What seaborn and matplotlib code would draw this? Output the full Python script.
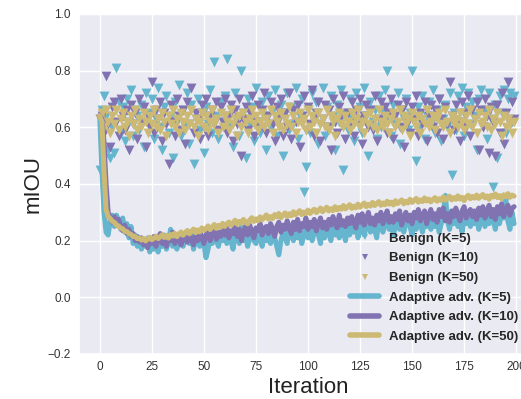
import matplotlib
matplotlib.use("Agg")
import matplotlib.pyplot as plt
from matplotlib.lines import Line2D
import seaborn as sns
import pandas as pd

iterations = list(range(200))

benign_k5 = [
    0.45, 0.66, 0.71, 0.64, 0.52, 0.49, 0.60, 0.51, 0.81, 0.69, 0.58, 0.67, 0.55, 0.70, 0.62, 0.73, 0.57, 0.66, 0.64, 0.59,
    0.68, 0.53, 0.72, 0.61, 0.65, 0.70, 0.56, 0.63, 0.74, 0.60, 0.52, 0.67, 0.71, 0.58, 0.64, 0.49, 0.69, 0.62, 0.75, 0.57,
    0.66, 0.60, 0.72, 0.54, 0.68, 0.47, 0.63, 0.70, 0.59, 0.65, 0.51, 0.67, 0.61, 0.73, 0.58, 0.83, 0.64, 0.56, 0.69, 0.62,
    0.71, 0.84, 0.60, 0.66, 0.53, 0.72, 0.63, 0.57, 0.80, 0.65, 0.49, 0.70, 0.61, 0.67, 0.55, 0.74, 0.62, 0.58, 0.69, 0.64,
    0.52, 0.71, 0.60, 0.66, 0.73, 0.57, 0.63, 0.68, 0.50, 0.65, 0.72, 0.59, 0.67, 0.61, 0.74, 0.56, 0.64, 0.70, 0.37, 0.46,
    0.66, 0.58, 0.72, 0.63, 0.69, 0.54, 0.61, 0.74, 0.57, 0.67, 0.60, 0.71, 0.64, 0.52, 0.68, 0.62, 0.73, 0.45, 0.65, 0.59,
    0.70, 0.63, 0.55, 0.72, 0.61, 0.67, 0.58, 0.74, 0.64, 0.50, 0.69, 0.62, 0.66, 0.56, 0.71, 0.60, 0.65, 0.73, 0.80, 0.63,
    0.57, 0.68, 0.61, 0.72, 0.54, 0.66, 0.63, 0.70, 0.59, 0.65, 0.80, 0.62, 0.48, 0.67, 0.60, 0.71, 0.56, 0.64, 0.69, 0.61,
    0.73, 0.58, 0.66, 0.70, 0.55, 0.63, 0.68, 0.60, 0.72, 0.43, 0.65, 0.59, 0.71, 0.62, 0.74, 0.57, 0.67, 0.72, 0.61, 0.69,
    0.64, 0.52, 0.70, 0.73, 0.60, 0.66, 0.56, 0.72, 0.63, 0.39, 0.68, 0.49, 0.71, 0.65, 0.73, 0.58, 0.70, 0.72, 0.62, 0.71,
]

benign_k10 = [
    0.63, 0.64, 0.58, 0.78, 0.61, 0.53, 0.67, 0.69, 0.62, 0.57, 0.70, 0.64, 0.59, 0.66, 0.52, 0.68, 0.61, 0.65, 0.56, 0.70,
    0.62, 0.67, 0.53, 0.64, 0.60, 0.76, 0.58, 0.66, 0.63, 0.69, 0.55, 0.65, 0.61, 0.47, 0.68, 0.62, 0.57, 0.70, 0.64, 0.59,
    0.66, 0.54, 0.69, 0.61, 0.74, 0.58, 0.65, 0.63, 0.56, 0.68, 0.60, 0.70, 0.57, 0.64, 0.66, 0.61, 0.69, 0.59, 0.67, 0.62,
    0.70, 0.58, 0.64, 0.68, 0.55, 0.66, 0.61, 0.70, 0.50, 0.63, 0.67, 0.59, 0.65, 0.71, 0.57, 0.62, 0.68, 0.60, 0.66, 0.72,
    0.58, 0.64, 0.69, 0.61, 0.55, 0.67, 0.63, 0.70, 0.57, 0.65, 0.60, 0.72, 0.56, 0.66, 0.62, 0.68, 0.53, 0.64, 0.71, 0.59,
    0.67, 0.61, 0.73, 0.57, 0.65, 0.69, 0.55, 0.63, 0.68, 0.60, 0.66, 0.52, 0.70, 0.62, 0.58, 0.67, 0.64, 0.71, 0.56, 0.65,
    0.61, 0.69, 0.57, 0.66, 0.63, 0.70, 0.54, 0.64, 0.68, 0.60, 0.66, 0.59, 0.71, 0.55, 0.63, 0.69, 0.61, 0.67, 0.58, 0.65,
    0.70, 0.56, 0.64, 0.68, 0.60, 0.66, 0.53, 0.69, 0.62, 0.58, 0.67, 0.63, 0.71, 0.57, 0.65, 0.61, 0.69, 0.55, 0.64, 0.68,
    0.60, 0.66, 0.58, 0.70, 0.63, 0.56, 0.67, 0.61, 0.76, 0.64, 0.59, 0.68, 0.62, 0.55, 0.69, 0.65, 0.60, 0.71, 0.57, 0.66,
    0.63, 0.69, 0.52, 0.66, 0.60, 0.70, 0.64, 0.51, 0.67, 0.62, 0.50, 0.68, 0.58, 0.72, 0.54, 0.65, 0.76, 0.61, 0.69, 0.63,
]

benign_k50 = [
    0.63, 0.65, 0.60, 0.66, 0.62, 0.58, 0.64, 0.61, 0.66, 0.59, 0.63, 0.65, 0.60, 0.62, 0.57, 0.64, 0.61, 0.66, 0.59, 0.63,
    0.60, 0.65, 0.62, 0.58, 0.64, 0.61, 0.66, 0.60, 0.63, 0.59, 0.65, 0.62, 0.57, 0.64, 0.61, 0.66, 0.60, 0.63, 0.58, 0.65,
    0.62, 0.59, 0.64, 0.61, 0.66, 0.60, 0.63, 0.57, 0.62, 0.65, 0.60, 0.64, 0.59, 0.62, 0.66, 0.61, 0.63, 0.58, 0.65, 0.60,
    0.64, 0.62, 0.59, 0.66, 0.61, 0.63, 0.57, 0.64, 0.60, 0.65, 0.62, 0.58, 0.63, 0.66, 0.61, 0.64, 0.59, 0.62, 0.65, 0.60,
    0.63, 0.61, 0.66, 0.58, 0.64, 0.62, 0.60, 0.65, 0.59, 0.63, 0.61, 0.67, 0.60, 0.64, 0.58, 0.62, 0.65, 0.61, 0.63, 0.59,
    0.66, 0.60, 0.64, 0.62, 0.58, 0.65, 0.61, 0.63, 0.60, 0.66, 0.59, 0.64, 0.62, 0.57, 0.63, 0.65, 0.61, 0.60, 0.64, 0.62,
    0.59, 0.65, 0.61, 0.63, 0.66, 0.60, 0.62, 0.58, 0.64, 0.61, 0.65, 0.60, 0.63, 0.59, 0.66, 0.62, 0.60, 0.64, 0.61, 0.58,
    0.63, 0.65, 0.60, 0.62, 0.66, 0.59, 0.64, 0.61, 0.63, 0.57, 0.65, 0.62, 0.60, 0.64, 0.58, 0.63, 0.61, 0.66, 0.60, 0.62,
    0.64, 0.59, 0.63, 0.65, 0.61, 0.60, 0.66, 0.62, 0.58, 0.64, 0.61, 0.63, 0.60, 0.65, 0.62, 0.59, 0.64, 0.61, 0.66, 0.60,
    0.63, 0.58, 0.65, 0.61, 0.62, 0.64, 0.60, 0.66, 0.59, 0.63, 0.61, 0.65, 0.62, 0.57, 0.64, 0.60, 0.63, 0.61, 0.58, 0.62,
]

adv_k5 = [
    0.63, 0.45, 0.30, 0.23, 0.22, 0.27, 0.29, 0.25, 0.29, 0.27, 0.24, 0.28, 0.23, 0.26, 0.21, 0.25, 0.19, 0.22, 0.18, 0.21,
    0.17, 0.20, 0.18, 0.21, 0.16, 0.19, 0.17, 0.21, 0.16, 0.20, 0.18, 0.22, 0.17, 0.20, 0.24, 0.18, 0.21, 0.17, 0.20, 0.22,
    0.18, 0.21, 0.23, 0.19, 0.22, 0.17, 0.20, 0.23, 0.18, 0.21, 0.19, 0.14, 0.17, 0.21, 0.19, 0.23, 0.20, 0.18, 0.22, 0.20,
    0.24, 0.19, 0.22, 0.20, 0.17, 0.23, 0.21, 0.19, 0.25, 0.20, 0.22, 0.18, 0.21, 0.24, 0.20, 0.19, 0.22, 0.21, 0.18, 0.23,
    0.20, 0.22, 0.19, 0.24, 0.21, 0.18, 0.15, 0.20, 0.23, 0.21, 0.19, 0.25, 0.22, 0.20, 0.24, 0.21, 0.23, 0.19, 0.22, 0.25,
    0.21, 0.24, 0.20, 0.23, 0.26, 0.22, 0.19, 0.24, 0.21, 0.25, 0.23, 0.20, 0.26, 0.22, 0.24, 0.21, 0.25, 0.23, 0.20, 0.26,
    0.22, 0.25, 0.23, 0.27, 0.21, 0.24, 0.26, 0.22, 0.25, 0.28, 0.23, 0.26, 0.24, 0.21, 0.27, 0.25, 0.23, 0.26, 0.29, 0.24,
    0.26, 0.22, 0.25, 0.28, 0.24, 0.27, 0.23, 0.26, 0.29, 0.25, 0.22, 0.27, 0.24, 0.28, 0.26, 0.23, 0.27, 0.25, 0.29, 0.24,
    0.27, 0.25, 0.28, 0.23, 0.26, 0.30, 0.36, 0.27, 0.24, 0.28, 0.26, 0.29, 0.25, 0.27, 0.23, 0.28, 0.26, 0.30, 0.25, 0.28,
    0.26, 0.29, 0.24, 0.27, 0.30, 0.25, 0.28, 0.26, 0.31, 0.27, 0.24, 0.29, 0.26, 0.30, 0.28, 0.35, 0.27, 0.24, 0.30, 0.26,
]

adv_k10 = [
    0.64, 0.63, 0.55, 0.40, 0.30, 0.28, 0.265, 0.285, 0.255, 0.275, 0.25, 0.235, 0.255, 0.225, 0.24, 0.215, 0.225, 0.20, 0.215, 0.195,
    0.21, 0.185, 0.20, 0.175, 0.205, 0.19, 0.215, 0.18, 0.205, 0.225, 0.19, 0.21, 0.18, 0.215, 0.20, 0.23, 0.19, 0.215, 0.205, 0.185,
    0.21, 0.225, 0.195, 0.22, 0.205, 0.185, 0.225, 0.20, 0.235, 0.21, 0.19, 0.22, 0.235, 0.20, 0.225, 0.24, 0.205, 0.23, 0.215, 0.24,
    0.22, 0.245, 0.21, 0.235, 0.225, 0.25, 0.215, 0.24, 0.20, 0.23, 0.25, 0.22, 0.255, 0.23, 0.21, 0.245, 0.235, 0.26, 0.22, 0.245,
    0.25, 0.225, 0.26, 0.24, 0.215, 0.25, 0.265, 0.23, 0.255, 0.24, 0.27, 0.245, 0.225, 0.265, 0.24, 0.275, 0.235, 0.26, 0.25, 0.28,
    0.24, 0.265, 0.25, 0.275, 0.235, 0.26, 0.28, 0.245, 0.265, 0.24, 0.275, 0.255, 0.285, 0.26, 0.245, 0.29, 0.255, 0.27, 0.25, 0.28,
    0.26, 0.285, 0.265, 0.245, 0.29, 0.265, 0.295, 0.255, 0.275, 0.30, 0.26, 0.28, 0.255, 0.29, 0.27, 0.30, 0.26, 0.28, 0.305, 0.265,
    0.285, 0.265, 0.295, 0.275, 0.305, 0.255, 0.28, 0.30, 0.27, 0.29, 0.26, 0.30, 0.28, 0.31, 0.27, 0.29, 0.305, 0.26, 0.29, 0.31,
    0.275, 0.295, 0.265, 0.31, 0.285, 0.315, 0.27, 0.295, 0.265, 0.305, 0.285, 0.315, 0.29, 0.27, 0.305, 0.32, 0.28, 0.30, 0.31, 0.285,
    0.305, 0.275, 0.315, 0.29, 0.32, 0.28, 0.30, 0.325, 0.285, 0.31, 0.275, 0.32, 0.295, 0.33, 0.285, 0.31, 0.325, 0.29, 0.315, 0.32,
]

adv_k50 = [
    0.64, 0.62, 0.45, 0.31, 0.285, 0.278, 0.268, 0.265, 0.255, 0.252, 0.244, 0.242, 0.233, 0.232, 0.225, 0.222, 0.214, 0.216, 0.207, 0.209,
    0.202, 0.208, 0.199, 0.206, 0.212, 0.203, 0.209, 0.216, 0.207, 0.214, 0.221, 0.211, 0.218, 0.209, 0.222, 0.216, 0.226, 0.214, 0.223, 0.231,
    0.219, 0.228, 0.236, 0.224, 0.233, 0.241, 0.228, 0.238, 0.231, 0.245, 0.236, 0.243, 0.252, 0.239, 0.248, 0.257, 0.243, 0.254, 0.247, 0.261,
    0.25, 0.258, 0.266, 0.254, 0.263, 0.272, 0.258, 0.268, 0.261, 0.275, 0.266, 0.259, 0.273, 0.281, 0.268, 0.277, 0.27, 0.284, 0.274, 0.282,
    0.291, 0.276, 0.285, 0.278, 0.292, 0.284, 0.296, 0.281, 0.29, 0.298, 0.285, 0.295, 0.288, 0.302, 0.291, 0.299, 0.306, 0.292, 0.301, 0.295,
    0.308, 0.296, 0.304, 0.311, 0.299, 0.307, 0.315, 0.302, 0.31, 0.318, 0.305, 0.313, 0.306, 0.32, 0.309, 0.317, 0.311, 0.324, 0.312, 0.319,
    0.327, 0.314, 0.322, 0.316, 0.329, 0.318, 0.326, 0.333, 0.32, 0.328, 0.322, 0.335, 0.324, 0.331, 0.338, 0.325, 0.333, 0.327, 0.339, 0.329,
    0.336, 0.326, 0.341, 0.331, 0.337, 0.344, 0.33, 0.339, 0.333, 0.346, 0.335, 0.342, 0.349, 0.336, 0.344, 0.338, 0.351, 0.34, 0.347, 0.337,
    0.345, 0.352, 0.339, 0.348, 0.342, 0.355, 0.343, 0.35, 0.357, 0.344, 0.352, 0.346, 0.358, 0.347, 0.353, 0.341, 0.354, 0.36, 0.348, 0.356,
    0.35, 0.361, 0.349, 0.357, 0.363, 0.351, 0.358, 0.346, 0.36, 0.354, 0.365, 0.352, 0.359, 0.348, 0.362, 0.355, 0.366, 0.353, 0.361, 0.357,
]

benign_labels = ["Benign (K=5)", "Benign (K=10)", "Benign (K=50)"]
adv_labels = ["Adaptive adv. (K=5)", "Adaptive adv. (K=10)", "Adaptive adv. (K=50)"]
x_ticks = [0, 25, 50, 75, 100, 125, 150, 175, 200]
y_ticks = [-0.2, 0.0, 0.2, 0.4, 0.6, 0.8, 1.0]

colors = ["#64B5CD", "#8172B2", "#CCB974"]

sns.set_theme(style="darkgrid")
plt.rcParams["font.family"] = ["Liberation Sans", "DejaVu Sans"]
plt.rcParams["lines.solid_capstyle"] = "round"

W, H = 521, 399
fig = plt.figure(figsize=(W / 100, H / 100), dpi=100)
ax = fig.add_axes([79 / W, 1 - 354 / H, (537 - 79) / W, (354 - 14) / H])

benign = [benign_k5, benign_k10, benign_k50]
adv = [adv_k5, adv_k10, adv_k50]

for vals, c in zip(benign, colors):
    df = pd.DataFrame({"Iteration": iterations, "mIOU": vals})
    sns.scatterplot(data=df, x="Iteration", y="mIOU", ax=ax, color=c, marker="v",
                    s=50, linewidth=0, zorder=2, legend=False)

for vals, c in zip(adv, colors):
    df = pd.DataFrame({"Iteration": iterations, "mIOU": vals})
    sns.lineplot(data=df, x="Iteration", y="mIOU", ax=ax, color=c, linewidth=3.6,
                 zorder=3, legend=False)

ax.set_xlim(-10, 210)
ax.set_ylim(-0.2, 1.0)
ax.set_xticks(x_ticks)
ax.set_yticks(y_ticks)
ax.set_yticklabels([f"{v:.1f}".replace("-", "\u2212") for v in y_ticks])
ax.tick_params(axis="both", labelsize=8.5, labelcolor="#333333", length=0)
ax.tick_params(axis="x", pad=5)
ax.tick_params(axis="y", pad=6)
ax.set_xlabel("Iteration", fontsize=16, color="#222222", labelpad=3)
ax.set_ylabel("mIOU", fontsize=16, color="#222222", labelpad=3)

handles = [Line2D([], [], linestyle="none", marker="v", markersize=5, color=c,
                  markeredgewidth=0) for c in colors]
handles += [Line2D([], [], color=c, linewidth=4) for c in colors]
ax.legend(handles, benign_labels + adv_labels, loc="lower left",
          bbox_to_anchor=(350 / W, 1 - 343 / H), bbox_transform=fig.transFigure,
          frameon=False, prop={"weight": "bold", "size": 9.5},
          handlelength=2.2, handletextpad=0.75, labelspacing=0.56,
          borderpad=0, borderaxespad=0)

fig.savefig("out.png", dpi=100)
